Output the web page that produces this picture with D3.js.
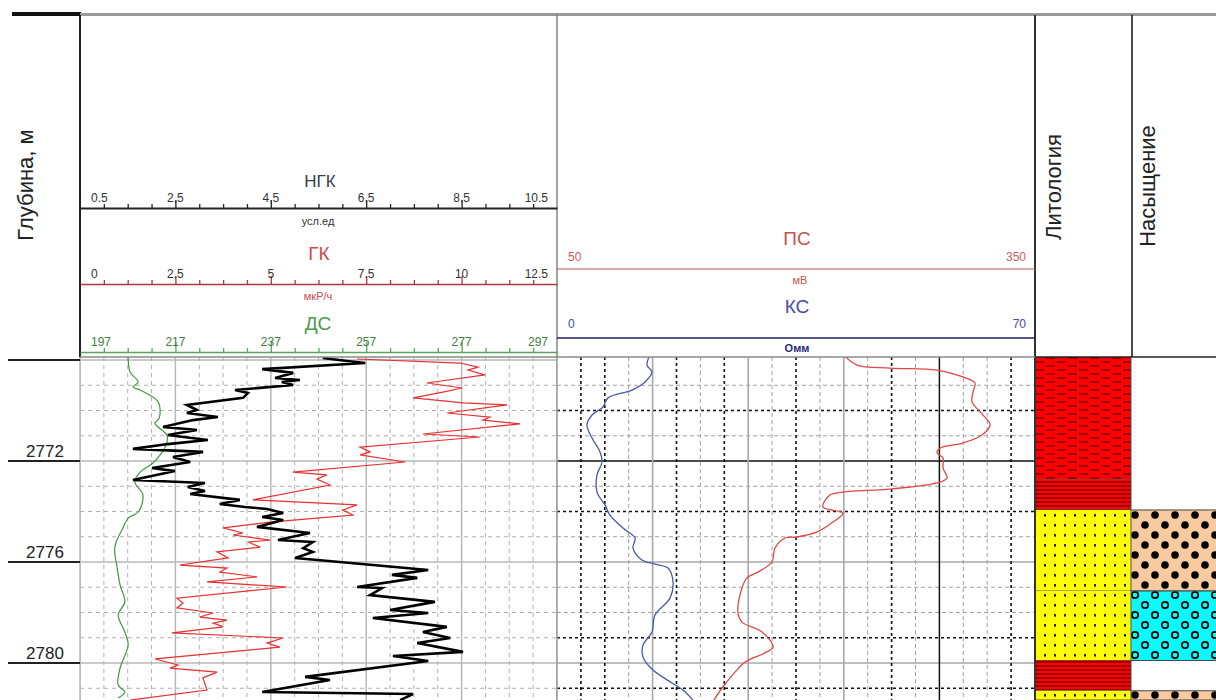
<!DOCTYPE html>
<html><head><meta charset="utf-8">
<script src="https://cdn.jsdelivr.net/npm/d3@7"></script>
<style>body{margin:0;background:#fff}svg{display:block;font-family:"Liberation Sans",Arial,sans-serif}</style>
</head><body><svg id="c" width="1216" height="700"></svg>
<script>
// ---------- DATA ----------
// НГК (усл.ед) : [depth, value]
const ngk = [[2767.92,5.59],[2768.04,6.10],[2768.12,6.48],[2768.36,4.32],[2768.51,4.97],[2768.71,4.59],[2768.79,5.11],[2768.87,4.73],[2768.99,4.97],[2769.19,3.75],[2769.31,4.02],[2769.50,3.92],[2769.78,2.74],[2769.98,2.95],[2770.10,2.74],[2770.26,3.39],[2770.38,2.87],[2770.65,2.24],[2770.77,2.95],[2770.97,2.34],[2771.17,3.18],[2771.33,2.34],[2771.52,1.61],[2771.64,3.08],[2771.84,2.45],[2772.04,2.81],[2772.28,2.01],[2772.40,2.49],[2772.75,1.61],[2772.87,3.12],[2773.03,2.76],[2773.19,3.12],[2773.31,2.81],[2773.54,3.85],[2773.70,3.43],[2773.82,3.96],[2773.90,4.42],[2774.06,4.76],[2774.22,4.32],[2774.34,4.76],[2774.61,4.21],[2774.85,5.32],[2775.13,4.65],[2775.21,5.38],[2775.45,5.18],[2775.60,5.38],[2775.84,5.01],[2776.32,7.80],[2776.51,7.04],[2776.63,7.57],[2776.99,6.31],[2777.03,6.83],[2777.31,6.58],[2777.58,7.94],[2777.90,7.00],[2778.02,7.80],[2778.22,6.64],[2778.57,8.19],[2778.77,7.69],[2779.01,8.26],[2779.21,7.57],[2779.56,8.53],[2779.72,7.06],[2779.92,7.80],[2780.55,5.22],[2780.67,5.74],[2781.15,4.32],[2781.23,7.48],[2781.47,7.21]];
// ГК (мкР/ч)
const gk = [[2767.96,7.26],[2768.12,9.96],[2768.28,10.43],[2768.40,10.17],[2768.59,10.61],[2768.91,9.09],[2769.11,10.01],[2769.27,9.51],[2769.50,8.73],[2769.70,10.04],[2769.78,11.19],[2770.10,9.62],[2770.26,10.74],[2770.38,10.56],[2770.53,11.53],[2770.93,8.99],[2771.05,10.48],[2771.45,7.34],[2771.64,7.60],[2771.76,7.34],[2772.04,8.52],[2772.44,5.58],[2772.55,6.47],[2772.71,6.21],[2772.95,6.55],[2773.54,4.53],[2773.74,7.26],[2773.94,6.89],[2774.14,7.15],[2774.42,4.98],[2774.65,3.75],[2774.85,4.27],[2774.93,4.01],[2775.13,4.98],[2775.21,4.40],[2775.41,4.72],[2775.60,3.59],[2775.84,3.88],[2776.12,2.62],[2776.24,3.85],[2776.40,3.67],[2776.59,4.64],[2776.79,3.33],[2776.99,5.42],[2777.43,2.54],[2777.62,2.70],[2777.82,2.54],[2778.02,3.49],[2778.18,3.14],[2778.30,3.85],[2778.42,3.49],[2778.57,3.75],[2778.81,2.41],[2779.01,5.32],[2779.21,4.90],[2779.37,5.24],[2779.84,1.97],[2780.08,2.57],[2780.20,2.36],[2780.36,3.59],[2780.59,3.22],[2781.07,3.33],[2781.47,1.31]];
// ДС
const ds = [[2767.80,207.1],[2768.48,207.5],[2768.87,209.2],[2769.07,208.1],[2769.19,209.6],[2769.66,213.4],[2770.30,213.6],[2770.50,212.7],[2770.97,215.2],[2771.29,215.2],[2771.76,213.8],[2772.08,212.3],[2772.44,209.6],[2772.83,208.5],[2773.35,210.2],[2774.02,209.2],[2774.26,207.1],[2774.65,206.0],[2775.41,204.3],[2776.24,204.8],[2776.91,205.4],[2777.58,206.4],[2778.10,205.0],[2778.77,206.4],[2779.29,207.1],[2780.20,205.4],[2780.87,205.0],[2781.15,206.4],[2781.39,205.0]];
// КС (Омм)
const ks = [[2767.80,13.6],[2768.20,13.18],[2768.48,13.91],[2768.87,12.89],[2769.19,10.98],[2769.50,7.47],[2769.86,6.74],[2770.18,5.13],[2770.57,4.39],[2771.09,5.13],[2771.64,6.30],[2772.04,6.59],[2772.55,5.86],[2773.23,5.86],[2773.74,7.03],[2774.14,7.76],[2774.65,9.66],[2775.05,11.42],[2775.45,11.13],[2775.92,12.45],[2776.08,14.35],[2776.24,16.25],[2776.79,16.99],[2777.43,16.55],[2778.10,14.35],[2778.77,13.91],[2779.29,12.59],[2779.76,12.59],[2780.28,14.06],[2780.79,16.84],[2781.07,18.45],[2781.47,19.9]];
// ПС (мВ)
const ps = [[2767.80,230.0],[2768.20,238.3],[2768.32,259.0],[2768.40,288.5],[2768.67,304.8],[2768.91,312.3],[2769.27,311.1],[2769.66,310.5],[2770.18,317.4],[2770.57,321.8],[2770.97,316.7],[2771.29,304.8],[2771.49,290.4],[2771.68,288.5],[2771.88,292.3],[2772.28,292.3],[2772.67,294.8],[2772.87,288.5],[2773.11,259.0],[2773.23,229.5],[2773.35,221.3],[2773.82,216.9],[2774.06,229.5],[2774.42,223.2],[2774.81,213.2],[2775.01,200.6],[2775.05,193.1],[2775.45,186.8],[2776.00,184.9],[2776.40,176.1],[2776.63,169.2],[2777.03,166.1],[2778.02,163.6],[2778.38,166.1],[2778.77,178.7],[2779.37,185.6],[2779.60,180.5],[2779.96,168.0],[2780.36,161.7],[2780.99,153.6],[2781.47,148.5]];
// Lithology intervals [top, bottom, type]
const lithology = [[2767.7,2772.75,"clay"],[2772.75,2773.94,"clayStripe"],[2773.94,2777.15,"sand"],[2777.15,2779.9,"sand"],[2779.9,2781.1,"clayStripe"],[2781.1,2781.6,"sand"]];
// Saturation intervals
const saturation = [[2773.94,2777.15,"oil"],[2777.15,2779.9,"water"],[2781.1,2781.6,"oil"]];
// Axis tick labels [value, text]
const ngkLabels = [[0.5,"0.5"],[2.5,"2,5"],[4.5,"4,5"],[6.5,"6,5"],[8.5,"8,5"],[10.5,"10.5"]];
const gkLabels = [[0,"0"],[2.5,"2.5"],[5,"5"],[7.5,"7.5"],[10,"10"],[12.5,"12.5"]];
const dsLabels = [[197,"197"],[217,"217"],[237,"237"],[257,"257"],[277,"277"],[297,"297"]];
const psLabels = [[50,"50"],[350,"350"]];
const ksLabels = [[0,"0"],[70,"70"]];
const depthLabels = [2772,2776,2780];
const depthMajor = [2768,2772,2776,2780];
// track-2 grid styles (index along 20 divisions / depth metres)
const t2VStyle = ["","B","B","g","S","B","g","B","S","g","B","g","S","g","B","g","K","g","g","B",""];
const t2HStyle = {2769:"g",2770:"B",2771:"g",2772:"K",2773:"g",2774:"B",2775:"g",2776:"S",2777:"g",2778:"g",2779:"B",2780:"S",2781:"B"};

// ---------- LAYOUT ----------
const svg = d3.select("#c");
const T1=[80,557], T2=[557,1035], LI=[1035,1131], SA=[1131,1216];
const LOGTOP=357, LOGBOT=700;
const y = d3.scaleLinear().domain([2768,2780]).range([360,663]);
const xNGK = d3.scaleLinear().domain([0.5,10.5]).range(T1);
const xGK = d3.scaleLinear().domain([0,12.5]).range(T1);
const xDS = d3.scaleLinear().domain([197,297]).range(T1);
const xPS = d3.scaleLinear().domain([50,350]).range(T2);
const xKS = d3.scaleLinear().domain([0,70]).range(T2);

// patterns
const defs = svg.append("defs");
let p = defs.append("pattern").attr("id","clay").attr("patternUnits","userSpaceOnUse").attr("width",22).attr("height",8);
p.append("rect").attr("width",22).attr("height",8).attr("fill","#ff0000");
p.append("line").attr("x1",1).attr("x2",10).attr("y1",2).attr("y2",2).attr("stroke","#6a0000").attr("stroke-width",1.3);
p.append("line").attr("x1",12).attr("x2",21).attr("y1",6).attr("y2",6).attr("stroke","#6a0000").attr("stroke-width",1.3);
p = defs.append("pattern").attr("id","clayStripe").attr("patternUnits","userSpaceOnUse").attr("width",10).attr("height",4);
p.append("rect").attr("width",10).attr("height",4).attr("fill","#ff0000");
p.append("line").attr("x1",0).attr("x2",10).attr("y1",2).attr("y2",2).attr("stroke","#6a0000").attr("stroke-width",1.3);
p = defs.append("pattern").attr("id","sand").attr("patternUnits","userSpaceOnUse").attr("width",10).attr("height",10);
p.append("rect").attr("width",10).attr("height",10).attr("fill","#ffff00");
p.append("rect").attr("x",4).attr("y",4).attr("width",2).attr("height",2.6).attr("fill","#222");
p = defs.append("pattern").attr("id","oil").attr("patternUnits","userSpaceOnUse").attr("width",20).attr("height",20);
p.append("rect").attr("width",20).attr("height",20).attr("fill","#f8caa0");
p.append("circle").attr("cx",5).attr("cy",5).attr("r",3.8).attr("fill","#000");
p.append("circle").attr("cx",15).attr("cy",15).attr("r",3.8).attr("fill","#000");
p = defs.append("pattern").attr("id","water").attr("patternUnits","userSpaceOnUse").attr("width",20).attr("height",20);
p.append("rect").attr("width",20).attr("height",20).attr("fill","#00ffff");
p.append("circle").attr("cx",5).attr("cy",5).attr("r",3.2).attr("fill","none").attr("stroke","#000").attr("stroke-width",1.8);
p.append("circle").attr("cx",15).attr("cy",15).attr("r",3.2).attr("fill","none").attr("stroke","#000").attr("stroke-width",1.8);

defs.append("clipPath").attr("id","cl1").append("rect").attr("x",T1[0]).attr("y",LOGTOP).attr("width",T1[1]-T1[0]).attr("height",LOGBOT-LOGTOP);
defs.append("clipPath").attr("id","cl2").append("rect").attr("x",T2[0]).attr("y",LOGTOP).attr("width",T2[1]-T2[0]).attr("height",LOGBOT-LOGTOP);

// ---------- GRID ----------
const metres = d3.range(2768,2782).filter(d=>y(d)>LOGTOP && y(d)<LOGBOT);
const g1 = svg.append("g").attr("clip-path","url(#cl1)");
metres.forEach(d=>{
  const solid = d%4===0;
  g1.append("line").attr("x1",T1[0]).attr("x2",T1[1]).attr("y1",y(d)).attr("y2",y(d))
    .attr("stroke",solid?"#b8b8b8":"#b0b0b0").attr("stroke-width",solid?1.5:1).attr("stroke-dasharray",solid?null:"4,4");
});
d3.range(0,21).forEach(k=>{
  const x = xNGK(0.5+0.5*k); const solid = k%4===0;
  g1.append("line").attr("x1",x).attr("x2",x).attr("y1",LOGTOP).attr("y2",LOGBOT)
    .attr("stroke",solid?"#b8b8b8":"#b0b0b0").attr("stroke-width",solid?1.5:1).attr("stroke-dasharray",solid?null:"4,4");
});
const st = {g:{c:"#a0a0a0",w:1,d:"4,3"},B:{c:"#111",w:1.6,d:"3,3"},S:{c:"#a8a8a8",w:1.6,d:null},K:{c:"#111",w:1.5,d:null}};
const g2 = svg.append("g").attr("clip-path","url(#cl2)");
metres.forEach(d=>{
  const s = st[t2HStyle[d]]; if(!s) return;
  g2.append("line").attr("x1",T2[0]).attr("x2",T2[1]).attr("y1",y(d)).attr("y2",y(d))
    .attr("stroke",s.c).attr("stroke-width",s.w).attr("stroke-dasharray",s.d);
});
d3.range(1,20).forEach(k=>{
  const s = st[t2VStyle[k]]; const x = xPS(50+15*k);
  g2.append("line").attr("x1",x).attr("x2",x).attr("y1",LOGTOP).attr("y2",LOGBOT)
    .attr("stroke",s.c).attr("stroke-width",s.w).attr("stroke-dasharray",s.d);
});

// ---------- CURVES ----------
const lineOf = (xs, curve) => d3.line().x(d=>xs(d[1])).y(d=>y(d[0])).curve(curve);
g1.append("path").datum(ds).attr("d",lineOf(xDS,d3.curveCatmullRom)).attr("fill","none").attr("stroke","#3f9a3f").attr("stroke-width",1.2);
g1.append("path").datum(gk).attr("d",lineOf(xGK,d3.curveLinear)).attr("fill","none").attr("stroke","#e83030").attr("stroke-width",1.2);
g1.append("path").datum(ngk).attr("d",lineOf(xNGK,d3.curveLinear)).attr("fill","none").attr("stroke","#000").attr("stroke-width",2.6).attr("stroke-linejoin","miter");
g2.append("path").datum(ks).attr("d",lineOf(xKS,d3.curveCatmullRom)).attr("fill","none").attr("stroke","#4a5aa8").attr("stroke-width",1.3);
g2.append("path").datum(ps).attr("d",lineOf(xPS,d3.curveCatmullRom)).attr("fill","none").attr("stroke","#e04848").attr("stroke-width",1.3);

// ---------- LITHOLOGY / SATURATION ----------
const yc = d => Math.max(LOGTOP, Math.min(LOGBOT, y(d)));
const gl = svg.append("g");
lithology.forEach(([a,b,t])=>{
  gl.append("rect").attr("x",LI[0]).attr("y",yc(a)).attr("width",LI[1]-LI[0]).attr("height",yc(b)-yc(a)).attr("fill",`url(#${t})`);
  gl.append("line").attr("x1",LI[0]).attr("x2",LI[1]).attr("y1",yc(b)).attr("y2",yc(b)).attr("stroke","#555").attr("stroke-width",1);
});
saturation.forEach(([a,b,t])=>{
  gl.append("rect").attr("x",SA[0]).attr("y",yc(a)).attr("width",SA[1]-SA[0]).attr("height",yc(b)-yc(a)).attr("fill",`url(#${t})`);
  [a,b].forEach(v=>gl.append("line").attr("x1",SA[0]).attr("x2",SA[1]).attr("y1",yc(v)).attr("y2",yc(v)).attr("stroke","#444").attr("stroke-width",1));
});

// ---------- BORDERS ----------
const L = (x1,y1,x2,y2,c,w)=>svg.append("line").attr("x1",x1).attr("y1",y1).attr("x2",x2).attr("y2",y2).attr("stroke",c).attr("stroke-width",w);
L(12,14,81,14,"#111",4);
L(80,14.5,1216,14.5,"#9a9a9a",3);
L(80,15,80,LOGTOP,"#222",2);
L(80,LOGTOP,80,LOGBOT,"#b8b8b8",1.5);
L(557,15,557,LOGTOP,"#666",1.2);
L(557,LOGTOP,557,LOGBOT,"#999",1.5);
L(1035,15,1035,LOGBOT,"#333",2);
L(1132,15,1132,LOGTOP,"#111",1.5);
L(1131,LOGTOP,1131,LOGBOT,"#555",1);
L(80,LOGTOP,1035,LOGTOP,"#8a8a8a",1.5);
L(1035,LOGTOP,1216,LOGTOP,"#222",1.5);

// depth column
depthMajor.forEach(d=>L(8,y(d),80,y(d),"#222",2));
svg.selectAll(".dl").data(depthLabels).enter().append("text").attr("x",45).attr("y",d=>y(d)-4)
  .attr("text-anchor","middle").attr("font-size",17).attr("fill","#222").text(d=>d);

// ---------- HEADERS ----------
function txt(x,yy,s,size,fill,anchor="middle",rot=false,weight=null){
  const t = svg.append("text").attr("font-size",size).attr("fill",fill).attr("text-anchor",anchor).attr("font-weight",weight).text(s);
  if(rot) t.attr("transform",`translate(${x},${yy}) rotate(-90)`); else t.attr("x",x).attr("y",yy);
  return t;
}
txt(33,185,"Глубина, м",22,"#222","middle",true);
txt(1061,187,"Литология",22,"#222","middle",true);
txt(1155,186,"Насыщение",22,"#222","middle",true);

function endLabels(scale, yy, labels, color){
  labels.forEach(([v,s],i)=>{
    const first = i===0, last = i===labels.length-1;
    const x = first? scale(v)+11 : last ? scale(v)-9 : scale(v);
    txt(x, yy, s, 12, color, first?"start":last?"end":"middle");
  });
}
function scaleAxis(scale, yy, step, majorEvery, color, width, majorLen, labels, labColor){
  const dom = scale.domain();
  const vals = d3.range(0,21).map(k=>dom[0]+k*step);
  const minor = vals.filter((v,i)=>i%majorEvery!==0);
  const major = vals.filter((v,i)=>i%majorEvery===0);
  const ga = svg.append("g").attr("transform",`translate(0,${yy})`)
    .call(d3.axisTop(scale).tickValues(minor).tickSize(4).tickSizeOuter(0).tickFormat(""));
  const gb = svg.append("g").attr("transform",`translate(0,${yy})`)
    .call(d3.axisTop(scale).tickValues(major.slice(1,-1)).tickSize(majorLen).tickSizeOuter(0).tickFormat(""));
  gb.select(".domain").remove();
  ga.select(".domain").attr("stroke",color).attr("stroke-width",width);
  ga.selectAll(".tick line").attr("stroke",color).attr("stroke-width",1.3);
  gb.selectAll(".tick line").attr("stroke",color).attr("stroke-width",1.3);
  endLabels(scale, yy-6, labels, labColor);
}
// НГК block
txt(320,187,"НГК",17,"#3c3c48");
scaleAxis(xNGK,208,0.5,4,"#222",2,8,ngkLabels,"#333");
txt(318,225,"усл.ед",11,"#333");
// ГК block
txt(319,260,"ГК",19,"#d04a4a");
scaleAxis(xGK,284,0.625,4,"#a83a3a",1.5,8,gkLabels,"#333");
txt(318,300,"мкР/ч",11,"#d04a4a");
// ДС block
txt(318,330,"ДС",19,"#4a9a4a");
scaleAxis(xDS,352,5,4,"#5aa55a",1.5,10,dsLabels,"#3e7e3e");
// ПС / КС header
txt(797,245,"ПС",19,"#c85050");
endLabels(xPS, 261, psLabels, "#c86060");
L(T2[0],269,T2[1],269,"#c85050",1.2);
txt(800,284,"мВ",11,"#c85050");
txt(797,313,"КС",19,"#4a4aa0");
endLabels(xKS, 328, ksLabels, "#4a4aa0");
L(T2[0],338,T2[1],338,"#202060",1.5);
txt(797,352,"Омм",11,"#2a2a80","middle",false,"bold");
</script></body></html>
